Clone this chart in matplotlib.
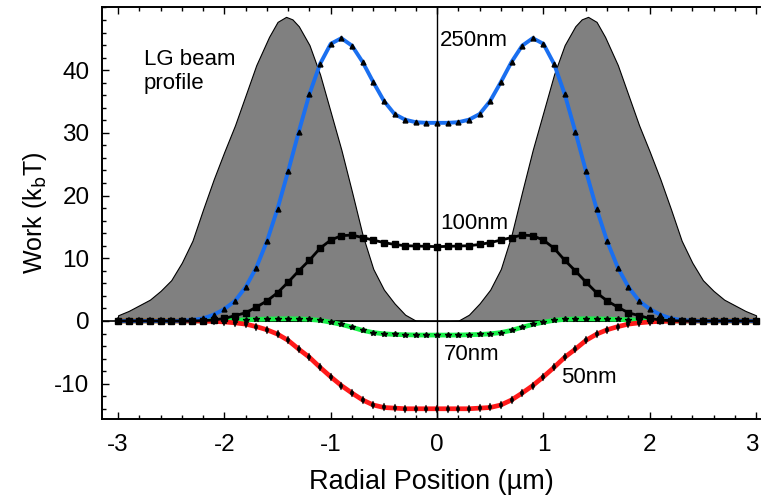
import numpy as np
import matplotlib.pyplot as plt
import matplotlib.transforms as mtransforms
from matplotlib.ticker import MultipleLocator

plt.rcParams["font.family"] = ["Liberation Sans", "DejaVu Sans"]
plt.rcParams["axes.unicode_minus"] = False

# radial grid of the simulated work curves (um)
r = np.round(np.arange(-30, 31) / 10, 1)

work_250 = [0, 0, 0, 0, 0, 0, 0.05, 0.15, 0.4, 1.0, 1.9, 3.2, 5.4, 8.5, 12.7, 17.9, 23.9, 30.2,
            36.2, 41.0, 44.2, 45.1, 43.9, 41.3, 38.1, 35.1, 33.0, 32.1, 31.7, 31.6,
            31.6,
            31.6, 31.7, 32.1, 33.0, 35.1, 38.1, 41.3, 43.9, 45.1, 44.2, 41.0, 36.2, 30.2, 23.9,
            17.9, 12.7, 8.5, 5.4, 3.2, 1.9, 1.0, 0.4, 0.15, 0.05, 0, 0, 0, 0, 0, 0]
work_100 = [0, 0, 0, 0, 0, 0, 0, 0, 0.05, 0.15, 0.4, 0.85, 1.3, 2.2, 3.2, 4.5, 6.2, 8.0,
            9.7, 11.6, 12.9, 13.6, 13.7, 13.3, 12.9, 12.5, 12.2, 12.0, 11.95, 11.9,
            11.85,
            11.9, 11.95, 12.0, 12.2, 12.5, 12.9, 13.3, 13.7, 13.6, 12.9, 11.6, 9.7, 8.0, 6.2,
            4.5, 3.2, 2.2, 1.3, 0.85, 0.4, 0.15, 0.05, 0, 0, 0, 0, 0, 0, 0, 0]
work_70 = [0, 0, 0, 0, 0, 0, 0, 0, 0.02, 0.04, 0.07, 0.12, 0.18, 0.25, 0.3, 0.33, 0.35, 0.32,
           0.25, 0.1, -0.2, -0.55, -1.0, -1.5, -1.85, -2.05, -2.15, -2.2, -2.24, -2.25,
           -2.25,
           -2.25, -2.24, -2.2, -2.15, -2.05, -1.85, -1.5, -1.0, -0.55, -0.2, 0.1, 0.25, 0.32,
           0.35, 0.33, 0.3, 0.25, 0.18, 0.12, 0.07, 0.04, 0.02, 0, 0, 0, 0, 0, 0, 0, 0]
work_50 = [0, 0, 0, 0, 0, 0, 0, 0, -0.03, -0.07, -0.15, -0.3, -0.5, -0.9, -1.4, -2.1, -3.1,
           -4.5, -5.8, -7.4, -8.9, -10.3, -11.5, -12.6, -13.4, -13.8, -13.9, -14.0, -14.0, -14.0,
           -14.0,
           -14.0, -14.0, -14.0, -13.9, -13.8, -13.4, -12.6, -11.5, -10.3, -8.9, -7.4, -5.8,
           -4.5, -3.1, -2.1, -1.4, -0.9, -0.5, -0.3, -0.15, -0.07, -0.03, 0, 0, 0, 0, 0, 0, 0, 0]

# LG beam intensity profile (arbitrary units, drawn on the same axis)
prof_x = [-3.0, -2.9, -2.8, -2.7, -2.6, -2.5, -2.4, -2.3, -2.2, -2.1, -2.0, -1.9, -1.8, -1.7,
          -1.58, -1.5, -1.42, -1.36, -1.3, -1.2, -1.1, -1.0, -0.9, -0.8, -0.7, -0.6, -0.5,
          -0.4, -0.3, -0.2, -0.1, 0.0,
          0.1, 0.2, 0.3, 0.4, 0.5, 0.6, 0.7, 0.8, 0.9, 1.0, 1.1, 1.2, 1.3, 1.36, 1.42, 1.5,
          1.58, 1.7, 1.8, 1.9, 2.0, 2.1, 2.2, 2.3, 2.4, 2.5, 2.6, 2.7, 2.8, 2.9, 3.0]
prof_y = [0.9, 1.6, 2.5, 3.4, 4.8, 6.5, 9.3, 12.8, 17.8, 22.6, 27.0, 31.2, 36.0, 40.8,
          45.3, 47.7, 48.5, 48.1, 47.0, 44.0, 39.3, 33.3, 27.3, 20.6, 13.7, 8.3, 5.0,
          2.8, 1.0, 0.05, 0, 0,
          0, 0.05, 1.0, 2.8, 5.0, 8.3, 13.7, 20.6, 27.3, 33.3, 39.3, 44.0, 47.0, 48.1, 48.5, 47.7,
          45.3, 40.8, 36.0, 31.2, 27.0, 22.6, 17.8, 12.8, 9.3, 6.5, 4.8, 3.4, 2.5, 1.6, 0.9]

fig = plt.figure(figsize=(7.61, 4.97), dpi=100)
ax = fig.add_axes([0.134, 0.157, 0.865, 0.829])

ax.fill_between(prof_x, prof_y, 0, facecolor="#808080", edgecolor="black", linewidth=0.8, zorder=1)
ax.axhline(0, color="black", linewidth=1.2, zorder=2)
ax.axvline(0, color="black", linewidth=1.0, zorder=2)

ax.plot(r, work_70, color="#19f04a", linewidth=3.4, zorder=3)
ax.plot(r, work_70, linestyle="none", marker="*", markersize=4, color="black", zorder=4)
ax.plot(r, work_50, color="#ff1a1a", linewidth=3.4, zorder=3)
ax.plot(r, work_50, linestyle="none", marker="d", markersize=4, markeredgewidth=0.3,
        color="black", zorder=4)
ax.plot(r, work_250, color="#1a6ff0", linewidth=2.8, zorder=5)
ax.plot(r, work_250, linestyle="none", marker="^", markersize=3.5, color="black", zorder=6)
ax.plot(r, work_100, color="black", linewidth=2.0, marker="s", markersize=3.8, zorder=7)

ax.text(0.03, 44.7, "250nm", fontsize=16, va="center", ha="left", zorder=8)
ax.text(0.03, 15.5, "100nm", fontsize=16, va="center", ha="left", zorder=8)
ax.text(0.06, -5.4, "70nm", fontsize=16, va="center", ha="left", zorder=8)
ax.text(1.17, -9.0, "50nm", fontsize=16, va="center", ha="left", zorder=8)
ax.text(-2.76, 39.8, "LG beam\nprofile", fontsize=16, va="center", ha="left",
        linespacing=1.2, zorder=8)

ax.set_xlim(-3.151, 3.039)
ax.set_ylim(-15.63, 50.08)
ax.set_xticks([-3, -2, -1, 0, 1, 2, 3])
ax.set_yticks([-10, 0, 10, 20, 30, 40])
ax.xaxis.set_minor_locator(MultipleLocator(0.2))
ax.yaxis.set_minor_locator(MultipleLocator(2))
ax.tick_params(which="both", direction="in", top=True, right=False, labelsize=17.5, width=1.0)
ax.tick_params(which="major", length=5)
ax.tick_params(axis="x", which="major", pad=11)
ax.tick_params(axis="y", which="major", pad=9)
ax.tick_params(which="minor", length=3)
ax.spines["right"].set_visible(False)
for side in ("left", "bottom", "top"):
    ax.spines[side].set_linewidth(1.4)

ax.set_xlabel("Radial Position (µm)", fontsize=19.5, labelpad=9)
ax.set_ylabel("Work (k$_\\mathrm{b}$T)", fontsize=18, labelpad=4)

# last x label sits at the figure edge: nudge it left a little
fig.canvas.draw()
last = ax.get_xticklabels()[-1]
last.set_transform(last.get_transform()
                   + mtransforms.ScaledTranslation(-4 / 100, 0, fig.dpi_scale_trans))

fig.savefig("out.png", dpi=100)
